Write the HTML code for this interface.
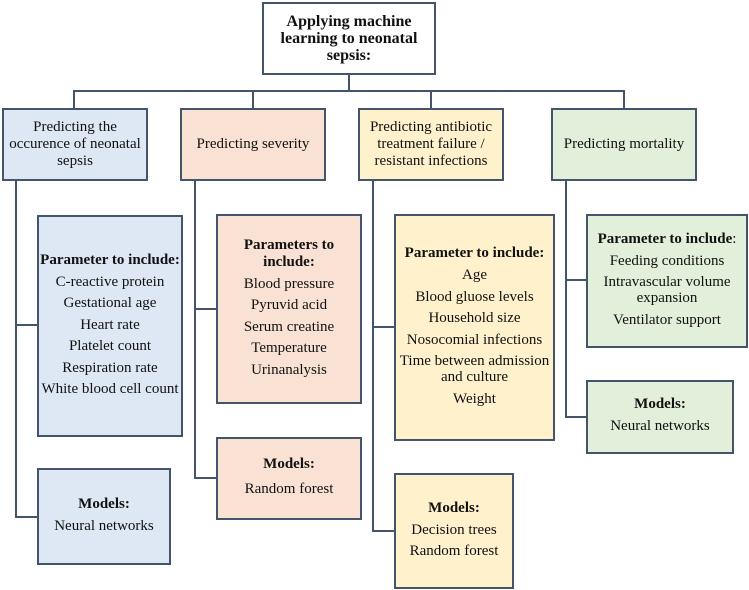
<!DOCTYPE html>
<html><head><meta charset="utf-8"><style>
body{margin:0;width:749px;height:590px;background:#fff;position:relative;overflow:hidden;font-family:"Liberation Serif",serif;color:#111;}
.b{position:absolute;box-sizing:border-box;border:2px solid #44546a;display:flex;flex-direction:column;justify-content:center;align-items:center;text-align:center;font-size:15px;line-height:17px;}
.l{position:absolute;background:#44546a;}
.bl{background:#dee8f4}.pe{background:#f9e2d4}.ye{background:#fff1cc}.gr{background:#e2efda}
.b div{line-height:21.5px}
.b div.t{font-weight:bold;line-height:17px;margin-bottom:3px}
</style></head><body>
<!-- connectors -->
<div class="l" style="left:348px;top:74px;width:2px;height:18px"></div>
<div class="l" style="left:73px;top:90px;width:552px;height:2px"></div>
<div class="l" style="left:73px;top:90px;width:2px;height:18px"></div>
<div class="l" style="left:252px;top:90px;width:2px;height:18px"></div>
<div class="l" style="left:430px;top:90px;width:2px;height:18px"></div>
<div class="l" style="left:623px;top:90px;width:2px;height:18px"></div>

<div class="l" style="left:15px;top:180px;width:2px;height:338px"></div>
<div class="l" style="left:15px;top:324px;width:23px;height:2px"></div>
<div class="l" style="left:15px;top:516px;width:23px;height:2px"></div>

<div class="l" style="left:194px;top:180px;width:2px;height:299px"></div>
<div class="l" style="left:194px;top:308px;width:23px;height:2px"></div>
<div class="l" style="left:194px;top:477px;width:23px;height:2px"></div>

<div class="l" style="left:372px;top:180px;width:2px;height:352px"></div>
<div class="l" style="left:372px;top:326px;width:23px;height:2px"></div>
<div class="l" style="left:372px;top:530px;width:23px;height:2px"></div>

<div class="l" style="left:565px;top:180px;width:2px;height:238px"></div>
<div class="l" style="left:565px;top:279px;width:22px;height:2px"></div>
<div class="l" style="left:565px;top:416px;width:22px;height:2px"></div>

<!-- title -->
<div class="b" style="left:262px;top:2px;width:174px;height:73px;background:#fff;font-weight:bold;font-size:16px;line-height:17px">Applying machine<br>learning to neonatal<br>sepsis:</div>

<!-- top boxes -->
<div class="b bl" style="left:2px;top:108px;width:146px;height:73px">Predicting the<br>occurence of neonatal<br>sepsis</div>
<div class="b pe" style="left:180px;top:108px;width:146px;height:73px">Predicting severity</div>
<div class="b ye" style="left:358px;top:108px;width:146px;height:73px">Predicting antibiotic<br>treatment failure /<br>resistant infections</div>
<div class="b gr" style="left:551px;top:108px;width:146px;height:73px">Predicting mortality</div>

<!-- params -->
<div class="b bl" style="left:37px;top:215px;width:146px;height:222px"><div class="t">Parameter to include:</div><div>C-reactive protein<br>Gestational age<br>Heart rate<br>Platelet count<br>Respiration rate<br>White blood cell count</div></div>
<div class="b pe" style="left:216px;top:214px;width:146px;height:190px"><div class="t">Parameters to<br>include:</div><div>Blood pressure<br>Pyruvid acid<br>Serum creatine<br>Temperature<br>Urinanalysis</div></div>
<div class="b ye" style="left:394px;top:214px;width:161px;height:227px"><div class="t">Parameter to include:</div><div>Age<br>Blood gluose levels<br>Household size<br>Nosocomial infections<br><span style="display:inline-block;line-height:16px;margin:2px 0 3px">Time between admission<br>and culture</span><br>Weight</div></div>
<div class="b gr" style="left:586px;top:214px;width:162px;height:134px"><div class="t"><b>Parameter to include</b><span style="font-weight:normal">:</span></div><div>Feeding conditions<br><span style="display:inline-block;line-height:16px;margin:2px 0 3px">Intravascular volume<br>expansion</span><br>Ventilator support</div></div>

<!-- models -->
<div class="b bl" style="left:37px;top:468px;width:134px;height:97px"><div class="t">Models:</div><div>Neural networks</div></div>
<div class="b pe" style="left:216px;top:437px;width:146px;height:83px"><div class="t" style="margin-bottom:6px">Models:</div><div>Random forest</div></div>
<div class="b ye" style="left:394px;top:473px;width:120px;height:116px"><div class="t">Models:</div><div>Decision trees<br>Random forest</div></div>
<div class="b gr" style="left:586px;top:380px;width:148px;height:74px"><div class="t">Models:</div><div>Neural networks</div></div>
</body></html>
